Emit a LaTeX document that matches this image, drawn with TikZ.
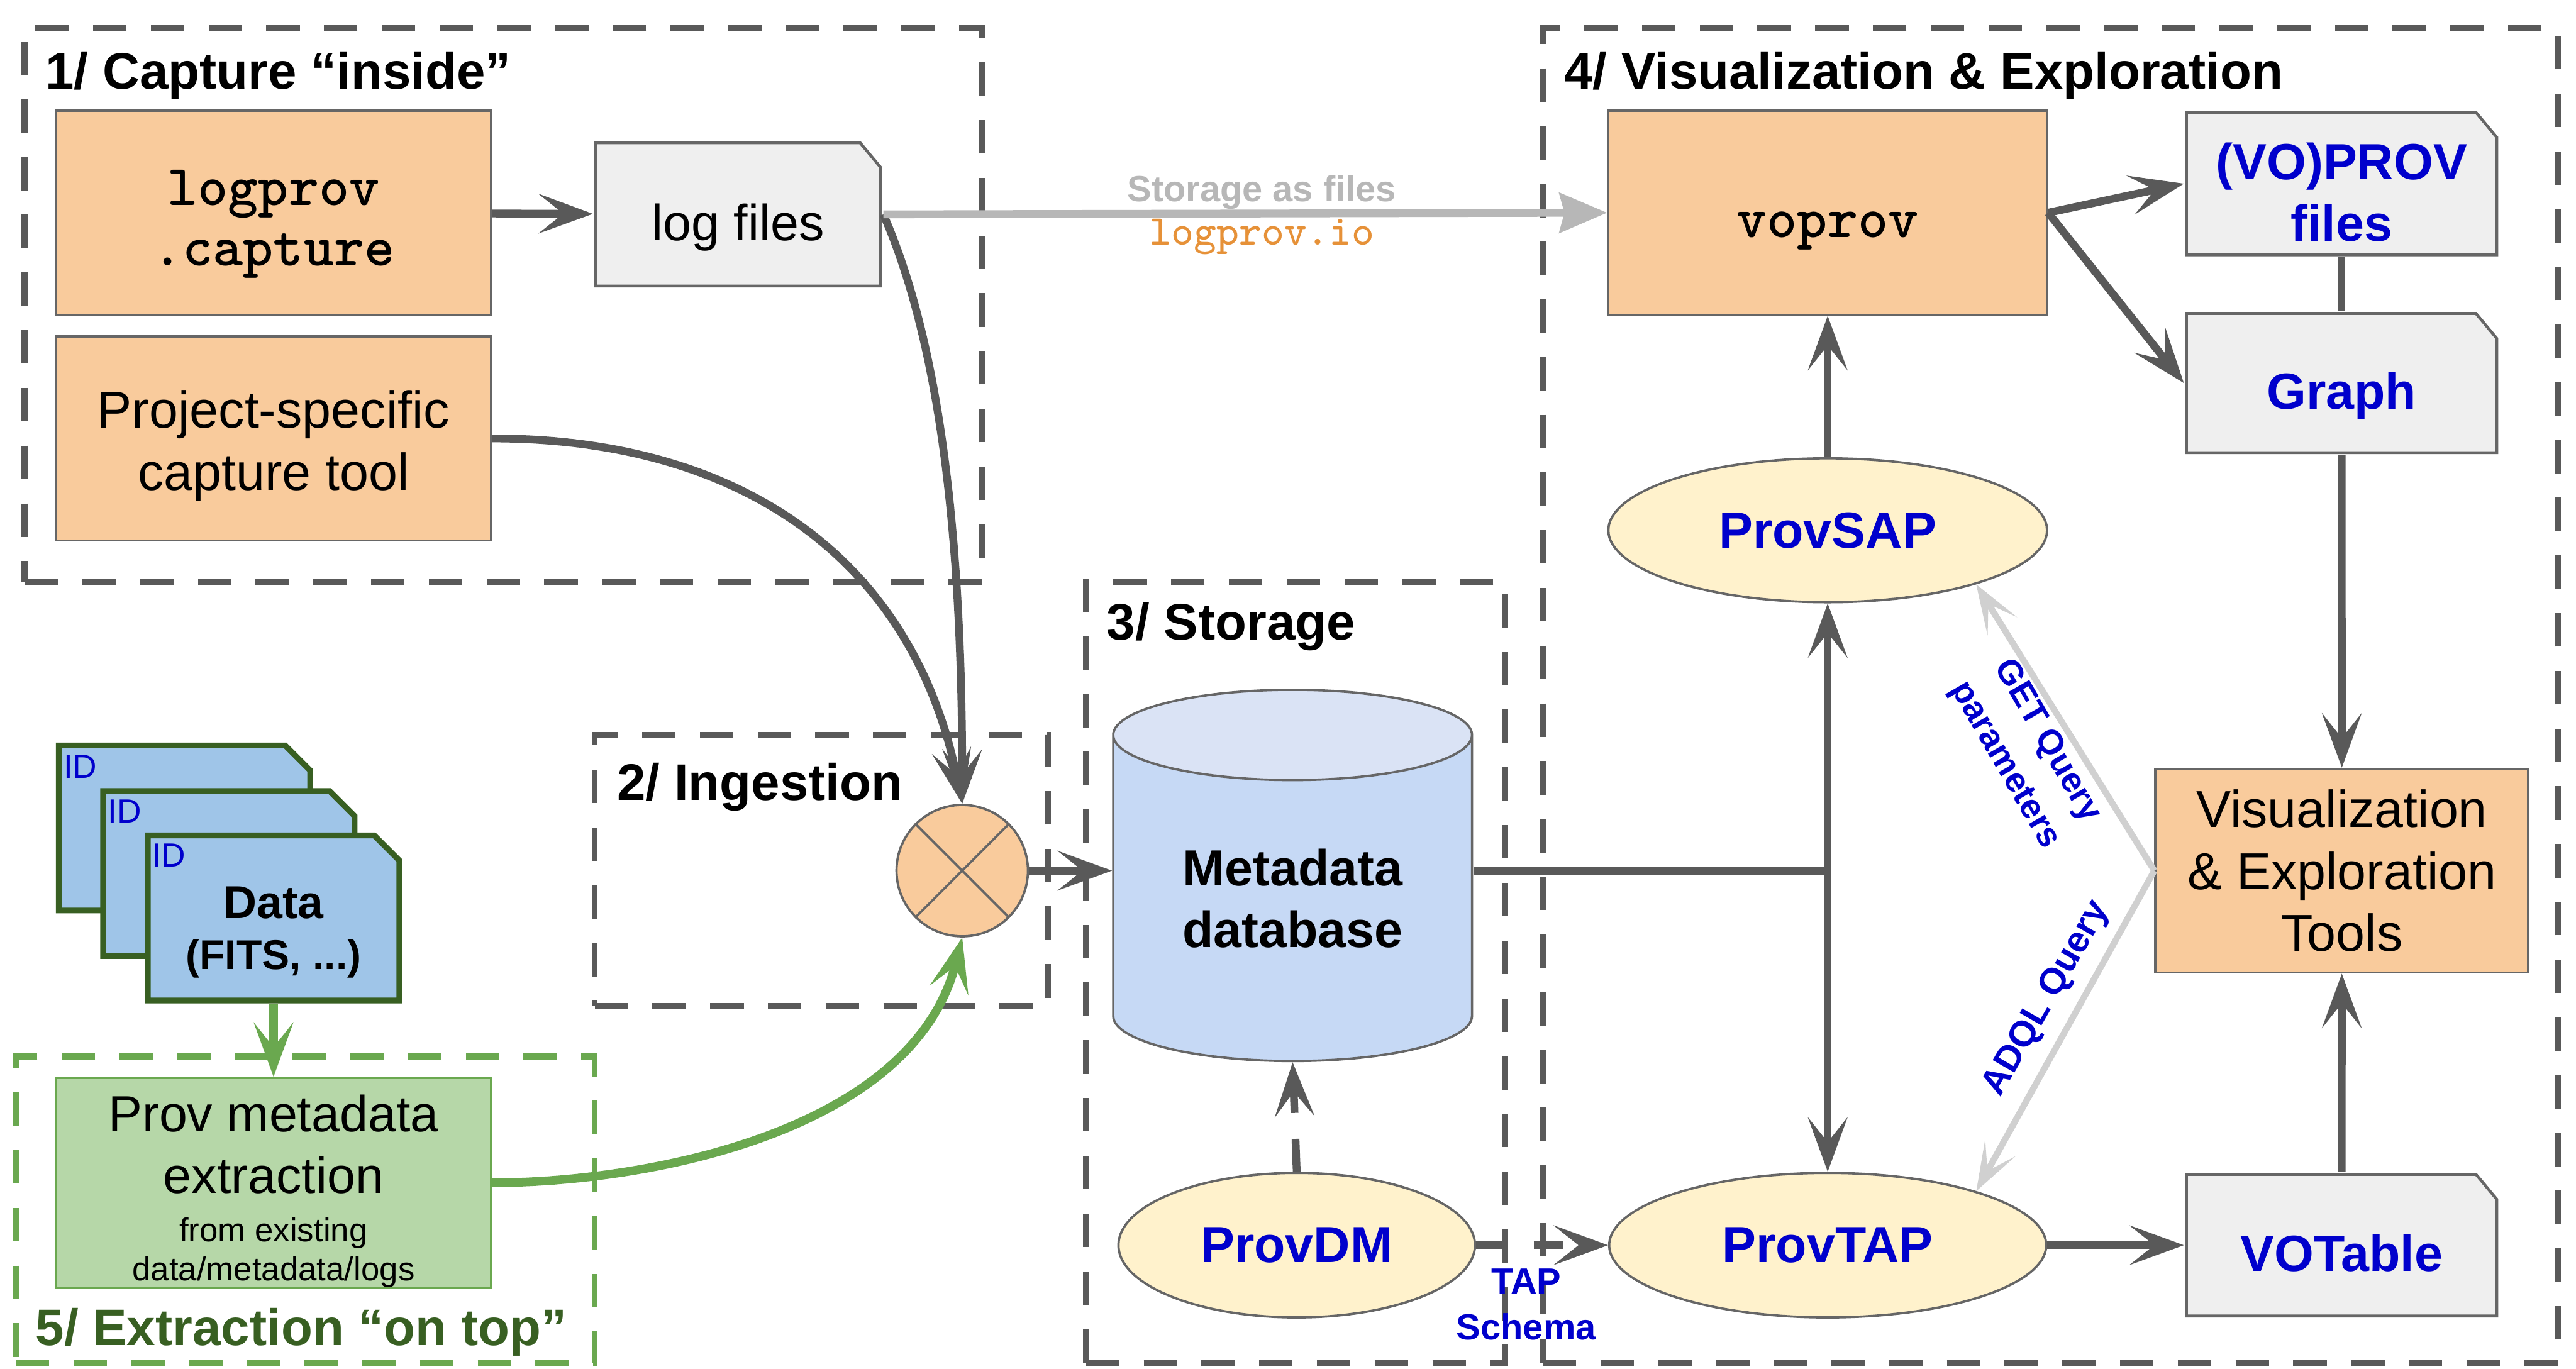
\documentclass[tikz,border=0pt]{standalone}
\usepackage{fontspec}
\setmainfont{Liberation Sans}
\definecolor{lineg}{RGB}{89, 89, 89}
\definecolor{storeg}{RGB}{183, 183, 183}
\definecolor{queryg}{RGB}{208, 208, 208}
\definecolor{toolorange}{RGB}{249, 203, 156}
\definecolor{protocream}{RGB}{255, 242, 204}
\definecolor{filegrey}{RGB}{239, 239, 239}
\definecolor{docblue}{RGB}{159, 197, 232}
\definecolor{dbblue}{RGB}{198, 217, 245}
\definecolor{dbtop}{RGB}{218, 227, 245}
\definecolor{extractgreen}{RGB}{182, 215, 168}
\definecolor{flowgreen}{RGB}{106, 168, 79}
\definecolor{titlegreen}{RGB}{56, 95, 34}
\definecolor{protoblue}{RGB}{0, 0, 204}
\definecolor{ioorange}{RGB}{230, 145, 56}
\usetikzlibrary{shapes, arrows.meta, calc}
\tikzset{
  tip/.tip={Stealth[length=3.3mm, width=2.4mm, inset=1.5mm]},
  groupbox/.style={draw=lineg, line width=1.05pt, dash pattern=on 5.8pt off 4.2pt},
  grouptitle/.style={anchor=west, inner sep=0pt, font=\fontsize{8.9}{10.6}\selectfont\bfseries},
  toolbox/.style={draw=black!60, fill=toolorange, line width=0.4pt, inner sep=0pt, align=center, font=\fontsize{9}{10.7}\selectfont},
  monobox/.style={toolbox, font=\fontsize{10}{10.5}\selectfont\ttfamily\bfseries},
  protocol/.style={ellipse, draw=black!60, fill=protocream, line width=0.4pt, inner sep=0pt, text=protoblue, font=\fontsize{8.8}{10.6}\selectfont\bfseries},
  pagebox/.style n args={5}{rectangle, inner sep=0pt, align=center, path picture={
    \draw[draw=#2, fill=#1, line width=#3]
      ([shift={(0.5*#3, 0.5*#3)}]path picture bounding box.south west)
      -- ([shift={(0.5*#3, -0.5*#3)}]path picture bounding box.north west)
      -- ([shift={(-#4, -0.5*#3)}]path picture bounding box.north east)
      -- ([shift={(-0.5*#3, -#5)}]path picture bounding box.north east)
      -- ([shift={(-0.5*#3, 0.5*#3)}]path picture bounding box.south east) -- cycle;}},
  filebox/.style={pagebox={filegrey}{black!60}{0.5pt}{0.135cm}{0.16cm}, minimum width=1.906cm, font=\fontsize{8.8}{10.7}\selectfont},
  protofile/.style={filebox, text=protoblue, font=\fontsize{8.8}{10.7}\selectfont\bfseries},
  datadoc/.style={pagebox={docblue}{titlegreen}{1pt}{0.17cm}{0.17cm}, minimum width=1.566cm, minimum height=1.04cm, font=\fontsize{8}{8.8}\selectfont\bfseries},
  idlabel/.style={anchor=north west, inner sep=0pt, text=protoblue, font=\fontsize{5.8}{7}\selectfont},
  flow/.style={draw=lineg, line width=1.35pt, -tip},
  link/.style={draw=lineg, line width=1.35pt},
  greenflow/.style={draw=flowgreen, line width=1.5pt, -tip},
  storeflow/.style={draw=storeg, line width=1.35pt, -{Stealth[length=2.9mm, width=2.4mm, inset=0.3mm]}},
  queryflow/.style={draw=queryg, line width=1.1pt, -{Stealth[length=3mm, width=2.1mm, inset=1.6mm]}},
  smalllabel/.style={inner sep=0pt, text=protoblue, align=center, font=\fontsize{6.3}{8}\selectfont\bfseries}
}

\begin{document}
\begin{tikzpicture}
  \useasboundingbox (0, 0) rectangle (15.68, 8.33);

  % Group frames
  \node[groupbox, minimum width=5.83cm, minimum height=3.37cm] (capturegroup) at (3.065, 6.475) {};
  \node[groupbox, minimum width=2.76cm, minimum height=1.65cm] (ingestgroup) at (5, 3.03) {};
  \node[groupbox, minimum width=2.55cm, minimum height=4.76cm] (storagegroup) at (7.885, 2.41) {};
  \node[groupbox, minimum width=6.18cm, minimum height=8.13cm] (visugroup) at (12.48, 4.095) {};
  \node[groupbox, draw=flowgreen, minimum width=3.524cm, minimum height=1.87cm] (extractgroup) at (1.858, 0.965) {};

  \node[grouptitle] (capturetitle) at (0.27, 7.87) {1/ Capture “inside”};
  \node[grouptitle] (ingesttitle) at (3.75, 3.54) {2/ Ingestion};
  \node[grouptitle] (storagetitle) at (6.73, 4.514) {3/ Storage};
  \node[grouptitle] (visutitle) at (9.515, 7.87) {4/ Visualization \& Exploration};
  \node[grouptitle, text=titlegreen] (extracttitle) at (0.21, 0.22) {5/ Extraction “on top”};

  % Capture
  \node[monobox, minimum width=2.65cm, minimum height=1.241cm] (logprov) at (1.665, 7.035) {\rule{0pt}{10pt}logprov\\.capture};
  \node[toolbox, minimum width=2.65cm, minimum height=1.243cm] (projecttool) at (1.665, 5.661) {\rule{0pt}{9pt}Project-specific\\capture tool};
  \node[filebox, minimum width=1.754cm, minimum height=0.89cm, text height=9pt, text depth=0pt] (logfiles) at (4.493, 7.025) {log files};

  % Data
  \node[datadoc] (docA) at (1.123, 3.29) {};
  \node[datadoc] (docB) at (1.393, 3.0125) {};
  \node[datadoc] (docC) at (1.665, 2.742) {\rule{0pt}{10.5pt}Data\\{\fontsize{7.2}{8}\selectfont (FITS, ...)}};
  \node[idlabel] (idA) at (0.38, 3.74) {ID};
  \node[idlabel] (idB) at (0.65, 3.47) {ID};
  \node[idlabel] (idC) at (0.92, 3.2) {ID};

  % Extraction
  \node[toolbox, fill=extractgreen, draw=flowgreen, minimum width=2.65cm, minimum height=1.24cm, font=\fontsize{8.8}{10.7}\selectfont] (extraction) at (1.665, 1.13) {\rule{0pt}{9.3pt}Prov metadata\\extraction\\[-2.4pt]{\fontsize{5.75}{6.6}\selectfont from existing}\\[-3.9pt]{\fontsize{5.75}{6.6}\selectfont data/metadata/logs}};

  % Ingestion
  \node[circle, draw=black!60, fill=toolorange, line width=0.4pt, minimum size=0.8cm, inner sep=0pt] (merge) at (5.857, 3.03) {};
  \draw[black!60, line width=0.4pt] (merge.north west) -- (merge.south east);
  \draw[black!60, line width=0.4pt] (merge.north east) -- (merge.south west);

  % Storage
  \node[cylinder, shape border rotate=90, aspect=0.41, cylinder uses custom fill, cylinder body fill=dbblue, cylinder end fill=dbtop, draw=black!60, line width=0.4pt, minimum width=2.184cm, minimum height=2.26cm, inner sep=0pt, align=center, font=\fontsize{8.8}{10.7}\selectfont\bfseries] (metadb) at (7.868, 2.86) {Metadata\\database};
  \node[protocol, minimum width=2.17cm, minimum height=0.88cm] (provdm) at (7.893, 0.75) {ProvDM};

  % Visualization
  \node[monobox, minimum width=2.67cm, minimum height=1.241cm, text height=8.5pt, text depth=0pt] (voprov) at (11.125, 7.035) {voprov};
  \node[protofile, minimum height=0.885cm] (provfiles) at (14.253, 7.212) {\rule{0pt}{9.4pt}(VO)PROV\\files};
  \node[protofile, minimum height=0.865cm, text height=9pt, text depth=0pt] (graph) at (14.253, 5.998) {Graph};
  \node[protocol, minimum width=2.67cm, minimum height=0.876cm] (provsap) at (11.125, 5.102) {ProvSAP};
  \node[protocol, minimum width=2.66cm, minimum height=0.88cm] (provtap) at (11.125, 0.75) {ProvTAP};
  \node[protofile, minimum height=0.88cm, text height=9pt, text depth=0pt] (votable) at (14.253, 0.75) {VOTable};
  \node[toolbox, minimum width=2.27cm, minimum height=1.24cm] (vistools) at (14.255, 3.03) {Visualization\\\& Exploration\\Tools};
  \coordinate (junction) at (11.125, 3.03);

  % Capture flows
  \draw[flow] (logprov) -- (logfiles);
  \draw[flow] (logfiles.east) .. controls +(0.35, -0.8) and +(0, 1.6) .. (merge.north);
  \draw[flow] (projecttool.east) .. controls +(1.5, 0) and +(-0.3, 1.5) .. (merge.north);
  \draw[storeflow] (logfiles.east) -- (voprov.west);
  \node[smalllabel, text=storeg] (storagelabel) at (7.68, 7.16) {Storage as files};
  \node[smalllabel, text=ioorange, font=\fontsize{7.35}{8}\selectfont\ttfamily] (iolabel) at (7.68, 6.89) {logprov.io};

  % Extraction flows
  \draw[greenflow] (docC) -- (extraction);
  \draw[greenflow] (extraction.east) .. controls +(0.9, 0) and +(-0.3, -1.2) .. (merge.south);

  % Storage flows
  \draw[flow] (merge.east) -- (merge -| metadb.west);
  \draw[flow, dash pattern=on 5.7pt off 4.5pt] (provdm.north) -- (metadb.south);
  \draw[flow, dash pattern=on 5pt off 5pt] (provdm) -- (provtap);
  \node[smalllabel] (taplabel) at (9.29, 0.39) {TAP\\Schema};
  \draw[link] (junction -| metadb.east) -- (junction);
  \draw[flow, tip-tip] (provsap) -- (provtap);

  % Visualization flows
  \draw[flow] (provsap) -- (voprov);
  \draw[flow] (voprov.east) -- (provfiles.west);
  \draw[flow] (voprov.east) -- (graph.west);
  \draw[link] (provfiles) -- (graph);
  \draw[flow] (graph) -- (vistools);
  \draw[flow] (provtap) -- (votable);
  \draw[flow] (votable) -- (vistools);
  \draw[queryflow] (vistools.west) -- (provsap.-20);
  \draw[queryflow] (vistools.west) -- (provtap.20);
  \node[smalllabel, rotate=-60, font=\fontsize{6}{8.4}\selectfont\bfseries] (getlabel) at (12.33, 3.745) {GET Query\\parameters};
  \node[smalllabel, rotate=60] (adqllabel) at (12.46, 2.25) {ADQL Query};
\end{tikzpicture}
\end{document}
